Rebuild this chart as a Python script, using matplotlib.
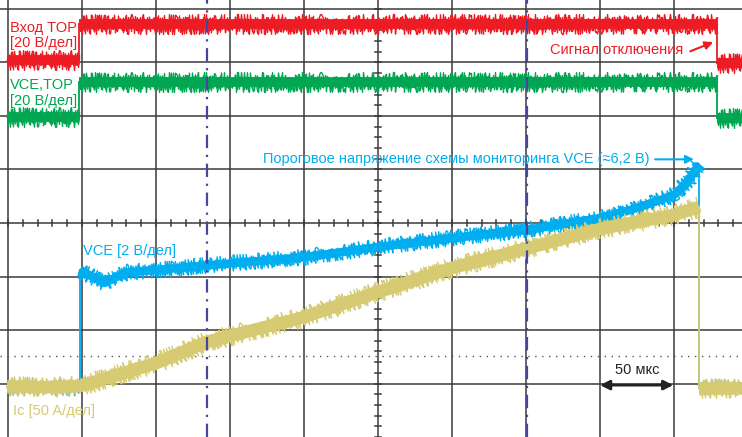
import matplotlib
matplotlib.use("Agg")
import matplotlib.pyplot as plt

plt.rcParams['font.family'] = ['Liberation Sans', 'DejaVu Sans']

# screen: 10 x 8 divisions, 50 us/div horizontally
t_gate = [-0.01, 0.96, 0.96, 9.58, 9.58, 9.93]
gate_in = [7.05, 7.05, 7.72, 7.72, 6.99, 6.99]          # Вход TOP, div
vce_top = [5.98, 5.98, 6.64, 6.64, 5.96, 5.96]          # VCE,TOP, div

# VCE of the tested switch, volts (2 V/div, zero at div 2)
t_vce = [-0.01, 0.97, 0.97, 1.3, 1.6, 2.0, 2.7, 4.0, 5.0, 6.0, 7.0, 8.0, 8.5, 9.0, 9.2, 9.34, 9.34, 9.93]
vce_v = [-2.14, -2.14, 2.24, 1.76, 2.16, 2.24, 2.42, 2.72, 3.1, 3.44, 3.74, 4.18, 4.56, 5.04, 5.6, 6.2, -2.14, -2.14]
vce_zero_div = 2.0
vce_per_div = 2.0
vce_threshold = 6.2

# collector current, div (50 A/div)
t_ic = [-0.01, 0.5, 0.97, 2.0, 2.69, 4.0, 5.0, 6.0, 7.0, 8.0, 9.0, 9.34, 9.34, 9.93]
ic = [0.95, 0.93, 0.95, 1.38, 1.78, 2.24, 2.71, 3.16, 3.52, 3.89, 4.15, 4.30, 0.92, 0.92]

cursor_x = [2.69, 7.01]
marker_y = 1.51

RED = '#ed1c24'
GREEN = '#00a651'
BLUE = '#00aeef'
KHAKI = '#d6cb72'
NAVY = '#4646a0'
GRID = '#3a3a3a'

fig = plt.figure(figsize=(7.42, 4.37), dpi=100)
ax = fig.add_axes([0, 0, 1, 1])
ax.set_xlim(-8 / 74, 734 / 74)
ax.set_ylim(0, 437 / 53.5)
ax.axis('off')

# graticule
for k in range(0, 11):
    ax.axvline(k, color=GRID, lw=1.1, zorder=1)
for k in range(1, 9):
    ax.axhline(k, color=GRID, lw=1.1, zorder=1)
for k in range(50):
    x = k * 0.2
    ax.plot([x, x], [4 - 0.06, 4 + 0.06], color=GRID, lw=1.1, zorder=1)
for k in range(41):
    y = k * 0.2
    ax.plot([5 - 0.045, 5 + 0.045], [y, y], color=GRID, lw=1.1, zorder=1)
ax.axhline(marker_y, color='#555555', lw=1.0, ls=(0, (1, 4)), zorder=1)
for x in cursor_x:
    ax.axvline(x, color=NAVY, lw=1.6, ls=(0, (6, 3, 1, 3)), zorder=6)


def trace(t, y, color, core, scale, z):
    # vertical edges thin, flat/sloped runs drawn as a noisy band
    runs = []
    start = 0
    for i in range(1, len(t)):
        if t[i] == t[i - 1]:
            ax.plot(t[i - 1:i + 1], y[i - 1:i + 1], color=color, lw=1.3, zorder=z)
            runs.append((start, i - 1))
            start = i
    runs.append((start, len(t) - 1))
    for a, b in runs:
        ts, ys = t[a:b + 1], y[a:b + 1]
        ax.plot(ts, ys, color=color, lw=core, zorder=z, solid_capstyle='butt')
        for length, sc in [(1.2, scale), (2.0, scale * 0.7), (0.8, scale * 0.5)]:
            ln, = ax.plot(ts, ys, color=color, lw=1.0, zorder=z)
            ln.set_sketch_params(scale=sc, length=length, randomness=2)


trace(t_gate, gate_in, RED, 7, 10, 3)
trace(t_gate, vce_top, GREEN, 7, 10, 3)
vce_div = [vce_zero_div + v / vce_per_div for v in vce_v]
trace(t_vce, vce_div, BLUE, 6, 8, 4)
trace(t_ic, ic, KHAKI, 9, 10, 5)

fs = 10.5
ax.text(0.03, 7.50, 'Вход TOP\n[20 В/дел]', color=RED, fontsize=fs,
        linespacing=1.1, va='center', ha='left', zorder=8)
ax.text(0.03, 6.43, 'VCE,TOP\n[20 В/дел]', color=GREEN, fontsize=fs,
        linespacing=1.1, va='center', ha='left', zorder=8)
ax.text(1.01, 3.41, 'VCE [2 В/дел]', color=BLUE, fontsize=fs, zorder=8)
ax.text(0.07, 0.41, 'Ic [50 A/дел]', color=KHAKI, fontsize=fs, zorder=8)

ax.text(9.12, 7.23, 'Сигнал отключения', color=RED, fontsize=fs,
        ha='right', va='center', zorder=8)
ax.annotate('', xy=(9.53, 7.38), xytext=(9.22, 7.21), zorder=8,
            arrowprops=dict(arrowstyle='-|>', color=RED, lw=1.5,
                            mutation_scale=12, shrinkA=0, shrinkB=0))

peak_div = vce_zero_div + vce_threshold / vce_per_div
ax.annotate('Пороговое напряжение схемы мониторинга VCE (≈6,2 В)',
            xy=(9.27, peak_div + 0.09), xytext=(8.67, peak_div + 0.09),
            color=BLUE, fontsize=fs, ha='right', va='center', zorder=8,
            arrowprops=dict(arrowstyle='-|>', color=BLUE, lw=1.5,
                            mutation_scale=12, shrinkA=2, shrinkB=0))

ax.annotate('', xy=(8.0, 0.97), xytext=(8.99, 0.97), zorder=8,
            arrowprops=dict(arrowstyle='<|-|>', color='#222222', lw=2,
                            mutation_scale=14, shrinkA=0, shrinkB=0))
ax.text(8.5, 1.13, '50 мкс', color='#222222', fontsize=fs, ha='center',
        va='bottom', zorder=8)

fig.savefig('out.png', dpi=100, facecolor='white')
